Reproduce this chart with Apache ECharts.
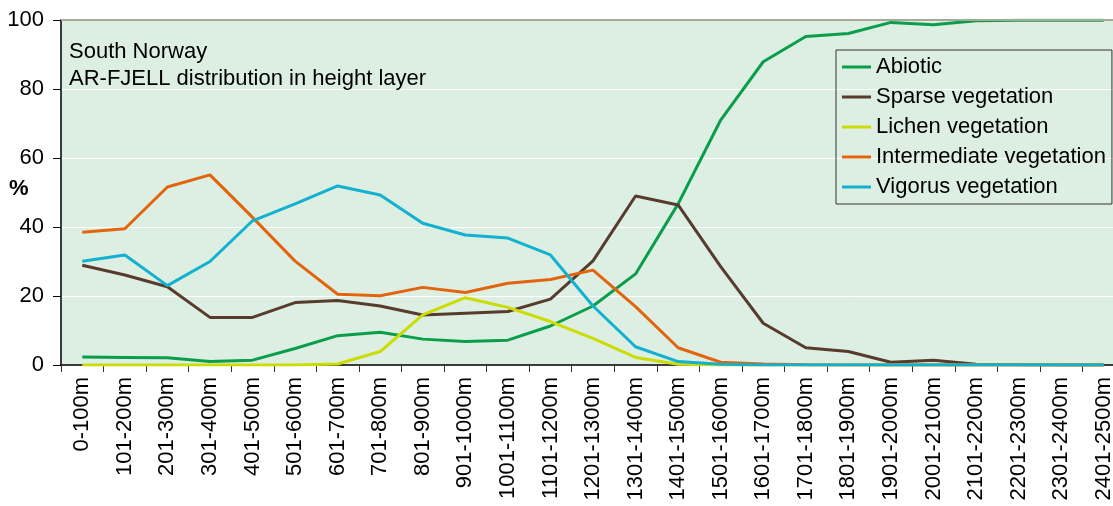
<!DOCTYPE html>
<html>
<head>
<meta charset="utf-8">
<script src="https://cdn.jsdelivr.net/npm/echarts@6/dist/echarts.min.js"></script>
<style>
html,body{margin:0;padding:0;background:#fff;}
#chart{width:1113px;height:506px;}
</style>
</head>
<body>
<div id="chart"></div>
<script>
const categories = ["0-100m","101-200m","201-300m","301-400m","401-500m","501-600m","601-700m","701-800m","801-900m","901-1000m","1001-1100m","1101-1200m","1201-1300m","1301-1400m","1401-1500m","1501-1600m","1601-1700m","1701-1800m","1801-1900m","1901-2000m","2001-2100m","2101-2200m","2201-2300m","2301-2400m","2401-2500m"];
const abiotic      = [2.3,2.2,2.1,1.0,1.4,4.8,8.5,9.5,7.5,6.8,7.2,11.3,17.1,26.4,46.7,71.0,87.9,95.2,96.1,99.3,98.6,99.8,99.9,99.9,99.9];
const sparse       = [28.9,26.1,22.7,13.8,13.8,18.1,18.7,17.1,14.5,15.0,15.5,19.1,30.2,49.0,46.4,28.5,12.1,5.0,3.9,0.8,1.4,0.2,0.1,0,0];
const lichen       = [0,0,0,0,0,0,0.3,3.9,14.5,19.5,16.7,12.6,7.7,2.2,0.2,0,0,0,0,0,0,0,0,0,0];
const intermediate = [38.5,39.5,51.6,55.1,42.8,30.1,20.5,20.1,22.5,21.0,23.7,24.8,27.5,16.9,5.0,0.8,0.3,0.1,0,0,0,0,0,0,0];
const vigorus      = [30.1,31.9,23.0,30.0,41.8,46.7,51.9,49.3,41.1,37.7,36.8,31.9,17.1,5.3,1.0,0.2,0,0,0,0,0,0,0,0,0];
const yTicks = [0,20,40,60,80,100];

const FONT = '"Liberation Sans", Arial, sans-serif';
const FS = 22;
const seriesDefs = [
  {name:'Abiotic', data:abiotic, color:'#0a9e4c'},
  {name:'Sparse vegetation', data:sparse, color:'#573b2d'},
  {name:'Lichen vegetation', data:lichen, color:'#cbdc00'},
  {name:'Intermediate vegetation', data:intermediate, color:'#e2650e'},
  {name:'Vigorus vegetation', data:vigorus, color:'#12b1cf'}
];

const chart = echarts.init(document.getElementById('chart'), null, {renderer:'canvas'});
chart.setOption({
  animation:false,
  textStyle:{fontFamily:FONT},
  title:{
    text:'South Norway\nAR-FJELL distribution in height layer',
    left:64, top:33,
    textStyle:{fontFamily:FONT, fontSize:FS, fontWeight:'normal', color:'#000', lineHeight:27}
  },
  graphic:[{
    type:'text',
    left:9, top:178,
    style:{text:'%', fontFamily:FONT, fontSize:FS, fontWeight:'bold', fill:'#000'}
  }],
  legend:{
    orient:'vertical',
    left:836, top:50,
    padding:[6,6,6,6],
    borderColor:'#333',
    borderWidth:1,
    itemWidth:29,
    itemHeight:3,
    itemGap:8,
    icon:'rect',
    textStyle:{fontFamily:FONT, fontSize:FS, color:'#000', padding:[0,0,0,0]},
    data:seriesDefs.map(s=>s.name)
  },
  grid:{left:61, top:20, width:1064, height:345, show:true, backgroundColor:'#ddefe3', borderWidth:0, containLabel:false, outerBoundsMode:'none'},
  xAxis:{
    type:'category',
    data:categories,
    boundaryGap:true,
    axisLine:{lineStyle:{color:'#000', width:1.5}},
    axisTick:{show:true, length:7, alignWithLabel:false, lineStyle:{color:'#333'}},
    axisLabel:{rotate:90, interval:0, fontFamily:FONT, fontSize:FS, color:'#000', margin:12}
  },
  yAxis:{
    type:'value',
    min:0, max:100, interval:20,
    axisLine:{show:true, lineStyle:{color:'#000', width:1.5}},
    axisTick:{show:true, length:8, lineStyle:{color:'#000'}},
    axisLabel:{fontFamily:FONT, fontSize:FS, color:'#000', margin:17,
      formatter:function(v){return yTicks.indexOf(v)>=0 ? String(v) : '';}},
    splitLine:{show:true, lineStyle:{color:'#ffffff', width:1}}
  },
  series:seriesDefs.map(s=>({
    name:s.name,
    type:'line',
    data:s.data,
    smooth:false,
    symbol:'none',
    lineStyle:{color:s.color, width:3},
    itemStyle:{color:s.color},
    z:3
  })).concat([{
    type:'line',
    data:[],
    silent:true,
    markLine:{
      silent:true, symbol:'none', label:{show:false},
      lineStyle:{color:'#a8a898', width:2, type:'solid'},
      data:[{yAxis:100}]
    }
  }])
});
</script>
</body>
</html>
